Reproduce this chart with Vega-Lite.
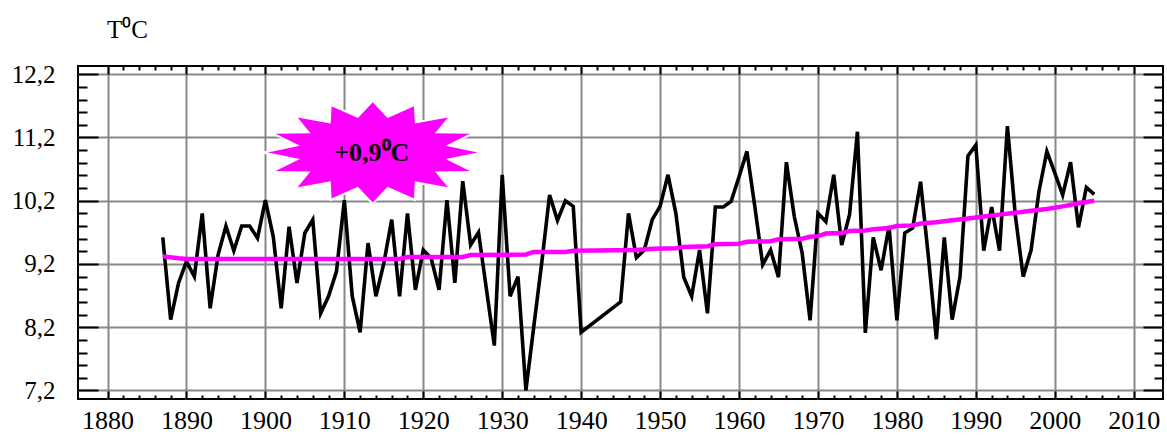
{
  "$schema": "https://vega.github.io/schema/vega-lite/v6.json",
  "width": 1085,
  "height": 333,
  "autosize": {"type": "none"},
  "padding": {"left": 78, "top": 66, "right": 4, "bottom": 36},
  "background": "white",
  "config": {"view": {"stroke": "black", "strokeWidth": 2}, "font": "Liberation Serif"},
  "datasets": {
    "temp": [
      {"year": 1887, "t": 9.62}, {"year": 1888, "t": 8.32}, {"year": 1889, "t": 8.90}, {"year": 1890, "t": 9.24},
      {"year": 1891, "t": 9.00}, {"year": 1892, "t": 10.00}, {"year": 1893, "t": 8.50}, {"year": 1894, "t": 9.34},
      {"year": 1895, "t": 9.80}, {"year": 1896, "t": 9.41}, {"year": 1897, "t": 9.80}, {"year": 1898, "t": 9.80},
      {"year": 1899, "t": 9.61}, {"year": 1900, "t": 10.21}, {"year": 1901, "t": 9.63}, {"year": 1902, "t": 8.50},
      {"year": 1903, "t": 9.79}, {"year": 1904, "t": 8.90}, {"year": 1905, "t": 9.69}, {"year": 1906, "t": 9.90},
      {"year": 1907, "t": 8.42}, {"year": 1908, "t": 8.69}, {"year": 1909, "t": 9.08}, {"year": 1910, "t": 10.21},
      {"year": 1911, "t": 8.69}, {"year": 1912, "t": 8.12}, {"year": 1913, "t": 9.53}, {"year": 1914, "t": 8.69},
      {"year": 1915, "t": 9.21}, {"year": 1916, "t": 9.90}, {"year": 1917, "t": 8.69}, {"year": 1918, "t": 10.00},
      {"year": 1919, "t": 8.79}, {"year": 1920, "t": 9.42}, {"year": 1921, "t": 9.29}, {"year": 1922, "t": 8.79},
      {"year": 1923, "t": 10.21}, {"year": 1924, "t": 8.90}, {"year": 1925, "t": 10.51}, {"year": 1926, "t": 9.50},
      {"year": 1927, "t": 9.70}, {"year": 1928, "t": 8.80}, {"year": 1929, "t": 7.91}, {"year": 1930, "t": 10.61},
      {"year": 1931, "t": 8.69}, {"year": 1932, "t": 9.00}, {"year": 1933, "t": 7.20}, {"year": 1934, "t": 8.21},
      {"year": 1935, "t": 9.21}, {"year": 1936, "t": 10.29}, {"year": 1937, "t": 9.89}, {"year": 1938, "t": 10.20},
      {"year": 1939, "t": 10.11}, {"year": 1940, "t": 8.12}, {"year": 1945, "t": 8.60}, {"year": 1946, "t": 10.00},
      {"year": 1947, "t": 9.30}, {"year": 1948, "t": 9.42}, {"year": 1949, "t": 9.90}, {"year": 1950, "t": 10.11},
      {"year": 1951, "t": 10.61}, {"year": 1952, "t": 10.00}, {"year": 1953, "t": 8.99}, {"year": 1954, "t": 8.69},
      {"year": 1955, "t": 9.42}, {"year": 1956, "t": 8.42}, {"year": 1957, "t": 10.10}, {"year": 1958, "t": 10.10},
      {"year": 1959, "t": 10.19}, {"year": 1960, "t": 10.58}, {"year": 1961, "t": 10.98}, {"year": 1962, "t": 10.11},
      {"year": 1963, "t": 9.19}, {"year": 1964, "t": 9.42}, {"year": 1965, "t": 8.99}, {"year": 1966, "t": 10.81},
      {"year": 1967, "t": 9.95}, {"year": 1968, "t": 9.37}, {"year": 1969, "t": 8.31}, {"year": 1970, "t": 10.00},
      {"year": 1971, "t": 9.87}, {"year": 1972, "t": 10.61}, {"year": 1973, "t": 9.50}, {"year": 1974, "t": 9.98},
      {"year": 1975, "t": 11.29}, {"year": 1976, "t": 8.11}, {"year": 1977, "t": 9.62}, {"year": 1978, "t": 9.10},
      {"year": 1979, "t": 9.80}, {"year": 1980, "t": 8.31}, {"year": 1981, "t": 9.69}, {"year": 1982, "t": 9.77},
      {"year": 1983, "t": 10.50}, {"year": 1984, "t": 9.30}, {"year": 1985, "t": 8.01}, {"year": 1986, "t": 9.62},
      {"year": 1987, "t": 8.32}, {"year": 1988, "t": 9.00}, {"year": 1989, "t": 10.91}, {"year": 1990, "t": 11.08},
      {"year": 1991, "t": 9.41}, {"year": 1992, "t": 10.10}, {"year": 1993, "t": 9.41}, {"year": 1994, "t": 11.38},
      {"year": 1995, "t": 9.97}, {"year": 1996, "t": 9.00}, {"year": 1997, "t": 9.42}, {"year": 1998, "t": 10.35},
      {"year": 1999, "t": 10.98}, {"year": 2000, "t": 10.64}, {"year": 2001, "t": 10.29}, {"year": 2002, "t": 10.81},
      {"year": 2003, "t": 9.78}, {"year": 2004, "t": 10.41}, {"year": 2005, "t": 10.30}
    ],
    "trend": [
      {"year": 1887, "t": 9.32}, {"year": 1889, "t": 9.29}, {"year": 1890, "t": 9.28}, {"year": 1917, "t": 9.28},
      {"year": 1918, "t": 9.31}, {"year": 1925, "t": 9.31}, {"year": 1926, "t": 9.34}, {"year": 1933, "t": 9.35},
      {"year": 1934, "t": 9.39}, {"year": 1938, "t": 9.39}, {"year": 1939, "t": 9.41}, {"year": 1947, "t": 9.42},
      {"year": 1949, "t": 9.44}, {"year": 1952, "t": 9.45}, {"year": 1953, "t": 9.47}, {"year": 1956, "t": 9.48},
      {"year": 1957, "t": 9.51}, {"year": 1960, "t": 9.52}, {"year": 1961, "t": 9.55}, {"year": 1964, "t": 9.56},
      {"year": 1965, "t": 9.59}, {"year": 1968, "t": 9.60}, {"year": 1969, "t": 9.63}, {"year": 1970, "t": 9.64},
      {"year": 1971, "t": 9.68}, {"year": 1973, "t": 9.69}, {"year": 1974, "t": 9.72}, {"year": 1976, "t": 9.73},
      {"year": 1977, "t": 9.75}, {"year": 1979, "t": 9.77}, {"year": 1980, "t": 9.80}, {"year": 1982, "t": 9.81},
      {"year": 1983, "t": 9.84}, {"year": 1985, "t": 9.86}, {"year": 1987, "t": 9.89}, {"year": 1989, "t": 9.92},
      {"year": 1991, "t": 9.95}, {"year": 1993, "t": 9.98}, {"year": 1995, "t": 10.01}, {"year": 1997, "t": 10.04},
      {"year": 1999, "t": 10.07}, {"year": 2001, "t": 10.11}, {"year": 2003, "t": 10.16}, {"year": 2005, "t": 10.20}
    ],
    "note": [
      {"year": 1913.6, "t": 10.964, "label": "+0,9⁰C"}
    ]
  },
  "layer": [
    {
      "data": {"name": "temp"},
      "mark": {"type": "line", "color": "black", "strokeWidth": 3.6, "strokeJoin": "miter", "strokeMiterLimit": 4},
      "encoding": {
        "x": {
          "field": "year", "type": "quantitative",
          "scale": {"domain": [1876.26, 2013.71], "nice": false, "zero": false},
          "axis": {
            "orient": "bottom", "title": null, "format": "d", "domain": false,
            "values": [1880,1882,1884,1886,1888,1890,1892,1894,1896,1898,1900,1902,1904,1906,1908,1910,1912,1914,1916,1918,1920,1922,1924,1926,1928,1930,1932,1934,1936,1938,1940,1942,1944,1946,1948,1950,1952,1954,1956,1958,1960,1962,1964,1966,1968,1970,1972,1974,1976,1978,1980,1982,1984,1986,1988,1990,1992,1994,1996,1998,2000,2002,2004,2006,2008,2010],
            "grid": true, "gridColor": "#888888", "gridWidth": 2,
            "gridOpacity": {"condition": {"test": "datum.value % 10 === 0", "value": 1}, "value": 0},
            "ticks": true, "tickColor": "black", "tickWidth": 2,
            "tickSize": {"condition": {"test": "datum.value % 10 === 0", "value": -8}, "value": -4},
            "labelExpr": "datum.value % 10 === 0 ? datum.label : ''",
            "labelFont": "Liberation Serif", "labelFontSize": 26, "labelColor": "black",
            "labelBaseline": "alphabetic", "labelPadding": 37.5,
            "labelOverlap": false, "labelFlush": false, "labelBound": false
          }
        },
        "y": {
          "field": "t", "type": "quantitative",
          "scale": {"domain": [7.065, 12.33], "nice": false, "zero": false},
          "axis": {
            "orient": "left", "domain": false,
            "values": [7.2,7.4,7.6,7.8,8.0,8.2,8.4,8.6,8.8,9.0,9.2,9.4,9.6,9.8,10.0,10.2,10.4,10.6,10.8,11.0,11.2,11.4,11.6,11.8,12.0,12.2],
            "grid": true, "gridColor": "#888888", "gridWidth": 2,
            "gridOpacity": {"condition": {"test": "abs(datum.value - 0.2 - round(datum.value - 0.2)) < 0.01", "value": 1}, "value": 0},
            "ticks": true, "tickColor": "black", "tickWidth": 2,
            "tickSize": {"condition": {"test": "abs(datum.value - 0.2 - round(datum.value - 0.2)) < 0.01", "value": -20}, "value": -9},
            "labelExpr": "abs(datum.value - 0.2 - round(datum.value - 0.2)) < 0.01 ? replace(format(datum.value, '.1f'), '.', ',') : ''",
            "labelFont": "Liberation Serif", "labelFontSize": 25, "labelColor": "black",
            "labelPadding": 43, "labelOverlap": false, "labelFlush": false, "labelBound": false,
            "title": "T⁰C", "titleAngle": 0, "titleX": 49, "titleY": -29,
            "titleAlign": "center", "titleBaseline": "alphabetic",
            "titleFont": "Liberation Serif", "titleFontSize": 25, "titleFontWeight": "normal", "titleColor": "black"
          }
        }
      }
    },
    {
      "data": {"name": "trend"},
      "mark": {"type": "line", "color": "#ff00ff", "strokeWidth": 4.5},
      "encoding": {
        "x": {
          "field": "year", "type": "quantitative",
          "scale": {"domain": [1876.26, 2013.71], "nice": false, "zero": false},
          "axis": {
            "orient": "top", "title": null, "domain": false, "grid": false, "labels": false,
            "values": [1880,1882,1884,1886,1888,1890,1892,1894,1896,1898,1900,1902,1904,1906,1908,1910,1912,1914,1916,1918,1920,1922,1924,1926,1928,1930,1932,1934,1936,1938,1940,1942,1944,1946,1948,1950,1952,1954,1956,1958,1960,1962,1964,1966,1968,1970,1972,1974,1976,1978,1980,1982,1984,1986,1988,1990,1992,1994,1996,1998,2000,2002,2004,2006,2008,2010],
            "ticks": true, "tickColor": "black", "tickWidth": 2,
            "tickSize": {"condition": {"test": "datum.value % 10 === 0", "value": -8}, "value": -4}
          }
        },
        "y": {
          "field": "t", "type": "quantitative",
          "scale": {"domain": [7.065, 12.33], "nice": false, "zero": false},
          "axis": {
            "orient": "right", "title": null, "domain": false, "grid": false, "labels": false,
            "values": [7.2,7.4,7.6,7.8,8.0,8.2,8.4,8.6,8.8,9.0,9.2,9.4,9.6,9.8,10.0,10.2,10.4,10.6,10.8,11.0,11.2,11.4,11.6,11.8,12.0,12.2],
            "ticks": true, "tickColor": "black", "tickWidth": 2,
            "tickSize": {"condition": {"test": "abs(datum.value - 0.2 - round(datum.value - 0.2)) < 0.01", "value": -20}, "value": -9}
          }
        }
      }
    },
    {
      "data": {"name": "note"},
      "mark": {
        "type": "point", "filled": true, "fill": "#ff00ff", "opacity": 1,
        "stroke": "white", "strokeWidth": 2, "strokeOpacity": 1, "size": 48400,
        "shape": "M1,0L0.69,-0.064L0.9239,-0.1791L0.585,-0.183L0.7071,-0.3309L0.391,-0.274L0.3827,-0.4324L0.137,-0.323L0,-0.468L-0.137,-0.323L-0.3827,-0.4324L-0.391,-0.274L-0.7071,-0.3309L-0.585,-0.183L-0.9239,-0.1791L-0.69,-0.064L-1,0L-0.69,0.064L-0.9239,0.1791L-0.585,0.183L-0.7071,0.3309L-0.391,0.274L-0.3827,0.4324L-0.137,0.323L0,0.468L0.137,0.323L0.3827,0.4324L0.391,0.274L0.7071,0.3309L0.585,0.183L0.9239,0.1791L0.69,0.064Z"
      },
      "encoding": {
        "x": {"field": "year", "type": "quantitative", "axis": null, "scale": {"domain": [1876.26, 2013.71], "nice": false, "zero": false}},
        "y": {"field": "t", "type": "quantitative", "axis": null, "scale": {"domain": [7.065, 12.33], "nice": false, "zero": false}}
      }
    },
    {
      "data": {"name": "note"},
      "mark": {"type": "text", "font": "Liberation Serif", "fontSize": 26, "fontWeight": "bold", "color": "black", "align": "center", "baseline": "middle", "dx": -1, "dy": 1},
      "encoding": {
        "x": {"field": "year", "type": "quantitative", "axis": null, "scale": {"domain": [1876.26, 2013.71], "nice": false, "zero": false}},
        "y": {"field": "t", "type": "quantitative", "axis": null, "scale": {"domain": [7.065, 12.33], "nice": false, "zero": false}},
        "text": {"field": "label"}
      }
    }
  ],
  "resolve": {"axis": {"x": "independent", "y": "independent"}}
}
